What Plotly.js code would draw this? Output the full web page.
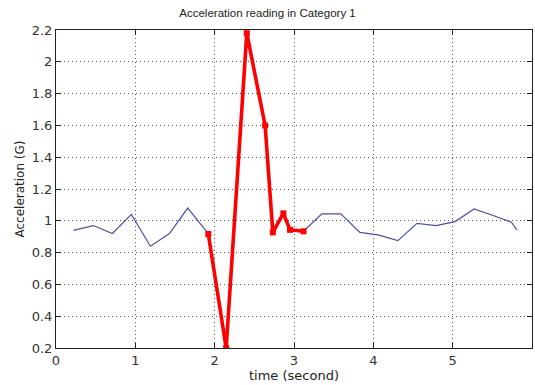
<!DOCTYPE html>
<html>
<head>
<meta charset="utf-8">
<script src="https://cdn.plot.ly/plotly-3.0.1.min.js"></script>
<style>html,body{margin:0;padding:0;background:#fff;}#chart{width:535px;height:385px;}</style>
</head>
<body>
<div id="chart"></div>
<script>
// Blue (normal) series: before the red event and after it
const blueTime = [0.22, 0.47, 0.71, 0.95, 1.19, 1.43, 1.66, 1.92, null, 3.12, 3.35, 3.59, 3.83, 4.06, 4.31, 4.55, 4.79, 5.03, 5.27, 5.51, 5.74, 5.81];
const blueAccel = [0.94, 0.97, 0.92, 1.04, 0.84, 0.92, 1.08, 0.92, null, 0.934, 1.044, 1.044, 0.927, 0.911, 0.875, 0.984, 0.970, 0.995, 1.075, 1.033, 0.991, 0.943];
// Red (event) series
const redTime = [1.92, 2.145, 2.405, 2.636, 2.733, 2.866, 2.95, 3.12];
const redAccel = [0.917, 0.2, 2.18, 1.60, 0.927, 1.047, 0.943, 0.934];
// Tick labels
const xTickVals = [0, 1, 2, 3, 4, 5, 6];
const xTickText = ['0', '1', '2', '3', '4', '5', '6'];
const yTickVals = [0.2, 0.4, 0.6, 0.8, 1.0, 1.2, 1.4, 1.6, 1.8, 2.0, 2.2];
const yTickText = ['0.2', '0.4', '0.6', '0.8', '1', '1.2', '1.4', '1.6', '1.8', '2', '2.2'];

const titleFam = 'Liberation Sans, Arial, sans-serif';
const labelFam = 'DejaVu Sans, sans-serif';

const traces = [
  {
    x: blueTime, y: blueAccel, type: 'scatter', mode: 'lines',
    line: {color: '#4f4fa6', width: 1.2}, connectgaps: false, hoverinfo: 'skip'
  },
  {
    x: redTime, y: redAccel, type: 'scatter', mode: 'lines+markers',
    line: {color: '#ff0000', width: 3.6},
    marker: {color: '#ff0000', symbol: 'square', size: 6}, cliponaxis: true
  }
];

const axisCommon = {
  showline: true, linecolor: '#222', linewidth: 1, mirror: 'ticks',
  ticks: 'inside', ticklen: 5, tickcolor: '#222', tickwidth: 1,
  showgrid: true, gridcolor: '#555', griddash: '1px,3px', gridwidth: 1,
  zeroline: false, tickmode: 'array',
  tickfont: {family: labelFam, size: 13, color: '#333'}
};

const layout = {
  width: 535, height: 385,
  margin: {l: 56, r: 3, t: 30, b: 37},
  paper_bgcolor: '#fff', plot_bgcolor: '#fff',
  showlegend: false,
  title: {text: 'Acceleration reading in Category 1', font: {family: titleFam, size: 11.5, color: '#222'}, x: 0.5, xanchor: 'center', xref: 'container', y: 0.978, yanchor: 'top'},
  xaxis: Object.assign({}, axisCommon, {
    range: [0, 6], tickvals: xTickVals, ticktext: xTickText,
    title: {text: 'time (second)', font: {family: labelFam, size: 13, color: '#222'}, standoff: 4}
  }),
  yaxis: Object.assign({}, axisCommon, {
    range: [0.2, 2.2], tickvals: yTickVals, ticktext: yTickText,
    title: {text: 'Acceleration (G)', font: {family: labelFam, size: 12, color: '#222'}, standoff: 4}
  })
};

Plotly.newPlot('chart', traces, layout, {displayModeBar: false, staticPlot: true});
</script>
</body>
</html>
